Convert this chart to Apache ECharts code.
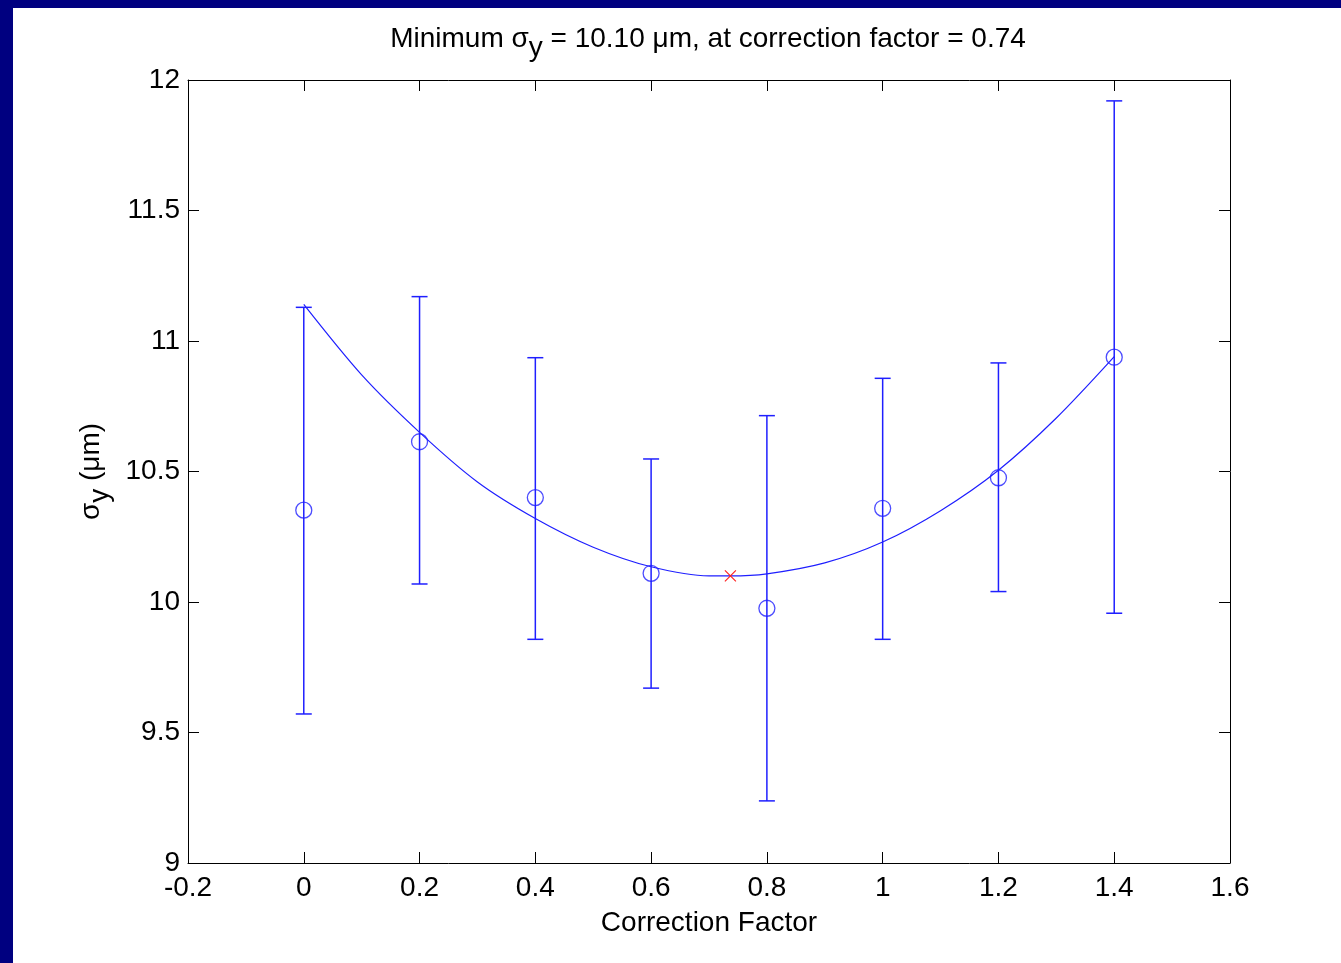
<!DOCTYPE html>
<html>
<head>
<meta charset="utf-8">
<script src="https://cdn.jsdelivr.net/npm/echarts@6/dist/echarts.min.js"></script>
<style>
html,body{margin:0;padding:0;background:#ffffff;}
#chart{width:1341px;height:963px;}
</style>
</head>
<body>
<div id="chart"></div>
<script>
// ---- data ----
const correctionFactor = [0, 0.2, 0.4, 0.6, 0.8, 1.0, 1.2, 1.4];
const sigmaY   = [10.352, 10.614, 10.400, 10.110, 9.976, 10.359, 10.476, 10.938];
const errLower = [9.571, 10.069, 9.857, 9.670, 9.238, 9.857, 10.040, 9.957];
const errUpper = [11.129, 11.170, 10.936, 10.548, 10.714, 10.857, 10.916, 11.920];

const fitX = [0, 0.1, 0.2, 0.3, 0.4, 0.5, 0.6, 0.7, 0.737, 0.8, 0.9, 1.0, 1.1, 1.2, 1.3, 1.4];
const fitY = [11.14, 10.87, 10.65, 10.46, 10.32, 10.21, 10.135, 10.10, 10.10, 10.108, 10.15, 10.23, 10.35, 10.505, 10.705, 10.94];

const minX = [0.737];
const minY = [10.10];

const xTickLabels = ['-0.2', '0', '0.2', '0.4', '0.6', '0.8', '1', '1.2', '1.4', '1.6'];
const yTickLabels = ['9', '9.5', '10', '10.5', '11', '11.5', '12'];

const titleText = 'Minimum σ{sub|y} = 10.10 μm, at correction factor = 0.74';
const xAxisTitle = 'Correction Factor';
const yAxisTitle = 'σ{sub|y} (μm)';

// ---- chart ----
const FONT = 'Liberation Sans';
const FS = 28;
const BLUE = '#1f1fff';
const X_MIN = -0.2, X_MAX = 1.6, X_INT = 0.2;
const Y_MIN = 9, Y_MAX = 12, Y_INT = 0.5;

function xLabel(v) { return xTickLabels[Math.round((v - X_MIN) / X_INT)]; }
function yLabel(v) { return yTickLabels[Math.round((v - Y_MIN) / Y_INT)]; }

const axisLineStyle = { color: '#000000', width: 1 };
const baseX = {
  type: 'value', min: X_MIN, max: X_MAX, interval: X_INT,
  axisLine: { show: true, onZero: false, lineStyle: axisLineStyle },
  axisTick: { show: true, inside: true, length: 11, lineStyle: axisLineStyle },
  splitLine: { show: false }
};
const baseY = {
  type: 'value', min: Y_MIN, max: Y_MAX, interval: Y_INT,
  axisLine: { show: true, onZero: false, lineStyle: axisLineStyle },
  axisTick: { show: true, inside: true, length: 11, lineStyle: axisLineStyle },
  splitLine: { show: false }
};

const chart = echarts.init(document.getElementById('chart'), null, { renderer: 'canvas' });

const option = {
  backgroundColor: '#ffffff',
  animation: false,
  title: {
    text: titleText,
    left: 708,
    top: 16,
    textAlign: 'center',
    padding: 0,
    textStyle: {
      fontFamily: FONT, fontSize: FS, fontWeight: 'normal', color: '#000000',
      rich: { sub: { fontFamily: FONT, fontSize: FS, color: '#000000', padding: [18, 0, 0, 0] } }
    }
  },
  grid: { left: 188, right: 111, top: 80, bottom: 100, containLabel: false },
  xAxis: [
    Object.assign({}, baseX, {
      position: 'bottom',
      axisLabel: {
        show: true, margin: 11, color: '#000000', fontFamily: FONT, fontSize: FS,
        showMinLabel: true, showMaxLabel: true, hideOverlap: false, formatter: xLabel
      },
      name: xAxisTitle, nameLocation: 'middle', nameGap: 46,
      nameTextStyle: { fontFamily: FONT, fontSize: FS, color: '#000000' }
    }),
    Object.assign({}, baseX, { position: 'top', axisLabel: { show: false } })
  ],
  yAxis: [
    Object.assign({}, baseY, {
      position: 'left',
      axisLabel: {
        show: true, margin: 8, color: '#000000', fontFamily: FONT, fontSize: FS,
        showMinLabel: true, showMaxLabel: true, hideOverlap: false, formatter: yLabel
      },
      name: yAxisTitle, nameLocation: 'middle', nameRotate: 90, nameGap: 74,
      nameTextStyle: {
        fontFamily: FONT, fontSize: FS, color: '#000000',
        rich: { sub: { fontFamily: FONT, fontSize: FS, color: '#000000', padding: [18, 0, 0, 0] } }
      }
    }),
    Object.assign({}, baseY, { position: 'right', axisLabel: { show: false } })
  ],
  graphic: [
    { type: 'rect', left: 0, top: 0, z: 100, shape: { width: 1341, height: 8 }, style: { fill: '#000080' } },
    { type: 'rect', left: 0, top: 0, z: 100, shape: { width: 13, height: 963 }, style: { fill: '#000080' } }
  ],
  series: [
    {
      name: 'fit', type: 'line', xAxisIndex: 0, yAxisIndex: 0,
      data: fitX.map((x, i) => [x, fitY[i]]),
      showSymbol: false, smooth: 0.3,
      lineStyle: { color: BLUE, width: 1.2 },
      z: 3
    },
    {
      name: 'errorbars', type: 'custom', xAxisIndex: 0, yAxisIndex: 0,
      data: correctionFactor.map((x, i) => [x, errLower[i], errUpper[i]]),
      encode: { x: 0, y: [1, 2] },
      renderItem: function (params, api) {
        const x = api.value(0), lo = api.value(1), hi = api.value(2);
        const pLo = api.coord([x, lo]);
        const pHi = api.coord([x, hi]);
        const w = 8;
        const style = { stroke: BLUE, lineWidth: 1.5, fill: null };
        return {
          type: 'group',
          children: [
            { type: 'line', shape: { x1: pLo[0], y1: pLo[1], x2: pHi[0], y2: pHi[1] }, style: style },
            { type: 'line', shape: { x1: pHi[0] - w, y1: pHi[1], x2: pHi[0] + w, y2: pHi[1] }, style: style },
            { type: 'line', shape: { x1: pLo[0] - w, y1: pLo[1], x2: pLo[0] + w, y2: pLo[1] }, style: style }
          ]
        };
      },
      z: 4
    },
    {
      name: 'points', type: 'scatter', xAxisIndex: 0, yAxisIndex: 0,
      data: correctionFactor.map((x, i) => [x, sigmaY[i]]),
      symbol: 'circle', symbolSize: 16,
      itemStyle: { color: 'rgba(0,0,0,0)', borderColor: BLUE, borderWidth: 1.3 },
      z: 5
    },
    {
      name: 'minimum', type: 'custom', xAxisIndex: 0, yAxisIndex: 0,
      data: minX.map((x, i) => [x, minY[i]]),
      encode: { x: 0, y: 1 },
      renderItem: function (params, api) {
        const p = api.coord([api.value(0), api.value(1)]);
        const h = 5.5;
        const style = { stroke: '#ff2020', lineWidth: 1.1, fill: null };
        return {
          type: 'group',
          children: [
            { type: 'line', shape: { x1: p[0] - h, y1: p[1] - h, x2: p[0] + h, y2: p[1] + h }, style: style },
            { type: 'line', shape: { x1: p[0] - h, y1: p[1] + h, x2: p[0] + h, y2: p[1] - h }, style: style }
          ]
        };
      },
      z: 6
    }
  ]
};

chart.setOption(option);
</script>
</body>
</html>
